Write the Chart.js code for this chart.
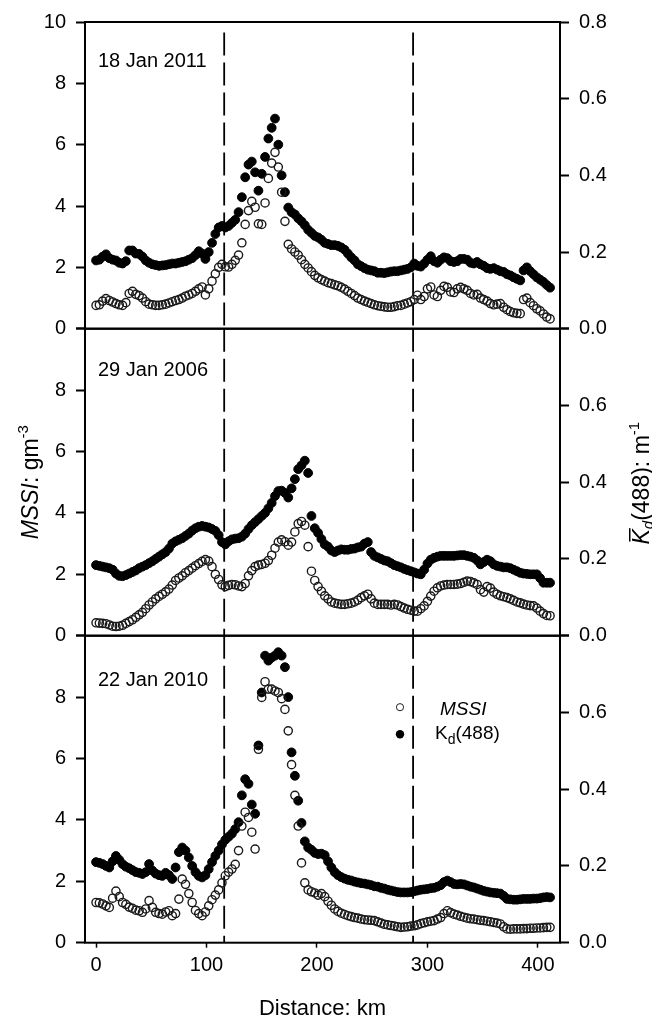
<!DOCTYPE html>
<html>
<head>
<meta charset="utf-8">
<script src="https://cdn.jsdelivr.net/npm/chart.js@4.4.1/dist/chart.umd.min.js"></script>
<style>
  html, body { margin: 0; padding: 0; background: #fff; }
  #wrap { position: relative; width: 652px; height: 1018px; }
  #wrap canvas { position: absolute; left: 0; top: 0; }
</style>
</head>
<body>
<div id="wrap">
  <canvas id="p1" width="652" height="1018"></canvas>
  <canvas id="p2" width="652" height="1018"></canvas>
  <canvas id="p3" width="652" height="1018"></canvas>
</div>
<script>
// distance along the transect, km
const distanceKm = [
  0, 3, 6, 9, 12, 15, 18, 21, 24, 27,
  30, 33, 36, 39, 42, 45, 48, 51, 54, 57,
  60, 63, 66, 69, 72, 75, 78, 81, 84, 87,
  90, 93, 96, 99, 102, 105, 108, 111, 114, 117,
  120, 123, 126, 129, 132, 135, 138, 141, 144, 147,
  150, 153, 156, 159, 162, 165, 168, 171, 174, 177,
  180, 183, 186, 189, 192, 195, 198, 201, 204, 207,
  210, 213, 216, 219, 222, 225, 228, 231, 234, 237,
  240, 243, 246, 249, 252, 255, 258, 261, 264, 267,
  270, 273, 276, 279, 282, 285, 288, 291, 294, 297,
  300, 303, 306, 309, 312, 315, 318, 321, 324, 327,
  330, 333, 336, 339, 342, 345, 348, 351, 354, 357,
  360, 363, 366, 369, 372, 375, 378, 381, 384, 387,
  390, 393, 396, 399, 402, 405, 408, 411
];
const dividerKm = [116, 287];

// 18 Jan 2011
const mssi2011 = [
  0.76, 0.78, 0.9, 0.98, 0.92, 0.87, 0.82, 0.78, 0.76, 0.85,
  1.15, 1.22, 1.12, 1.08, 1.0, 0.88, 0.8, 0.78, 0.76, 0.76,
  0.78, 0.8, 0.84, 0.88, 0.92, 0.95, 1.0, 1.06, 1.1, 1.15,
  1.22, 1.3, 1.36, 1.1, 1.3, 1.55, 1.79, 2.0, 2.1, 2.02,
  2.01, 2.1, 2.23, 2.4, 2.8, 3.4, 3.85, 4.15, 3.96, 3.42,
  3.4, 4.1, 4.9, 5.4, 5.75, 5.27, 4.45, 3.5, 2.75, 2.6,
  2.5, 2.4, 2.25, 2.1, 1.98, 1.86, 1.74, 1.66, 1.6, 1.55,
  1.5, 1.47, 1.43, 1.4, 1.35, 1.29, 1.22, 1.15, 1.08, 1.0,
  0.95, 0.9, 0.86, 0.82, 0.78, 0.75, 0.73, 0.71, 0.7, 0.7,
  0.72, 0.75, 0.76, 0.8, 0.84, 0.88, 0.95, 1.09, 0.95, 1.05,
  1.3, 1.36, 1.1, 1.05, 1.25, 1.38, 1.35, 1.2, 1.18, 1.3,
  1.35, 1.3, 1.25, 1.15, 1.1, 1.12, 1.0, 0.95, 0.9, 0.82,
  0.78, 0.8, 0.82, 0.7, 0.62, 0.56, 0.52, 0.5, 0.49, 0.95,
  1.0, 0.85, 0.75, 0.65, 0.58, 0.48, 0.38, 0.32
];
const kd2011 = [
  0.178, 0.18, 0.188, 0.194, 0.184, 0.18, 0.178, 0.172, 0.17, 0.176,
  0.204, 0.204, 0.196, 0.195, 0.188, 0.178, 0.172, 0.168, 0.166, 0.164,
  0.165, 0.166, 0.168, 0.17, 0.17, 0.172, 0.174, 0.176, 0.18, 0.184,
  0.192, 0.202, 0.196, 0.182, 0.2, 0.224, 0.247, 0.264, 0.268, 0.264,
  0.268, 0.276, 0.284, 0.304, 0.343, 0.395, 0.428, 0.436, 0.408, 0.36,
  0.404, 0.448, 0.496, 0.524, 0.548, 0.48, 0.4, 0.356, 0.316, 0.304,
  0.298, 0.288, 0.28, 0.27, 0.258, 0.25, 0.242, 0.238, 0.232, 0.224,
  0.221, 0.218, 0.218, 0.216, 0.212, 0.206, 0.196, 0.186, 0.178, 0.168,
  0.163, 0.158, 0.154, 0.152, 0.15, 0.146, 0.146, 0.145, 0.147, 0.149,
  0.15, 0.15, 0.152, 0.154, 0.156, 0.16, 0.17, 0.164, 0.162, 0.17,
  0.18, 0.189, 0.176, 0.172, 0.18, 0.186, 0.184, 0.176, 0.174, 0.176,
  0.182, 0.182, 0.18, 0.172, 0.17, 0.174, 0.168, 0.164, 0.158, 0.156,
  0.158, 0.154, 0.15, 0.148, 0.142, 0.139, 0.134, 0.13, 0.126, 0.152,
  0.16, 0.15, 0.142, 0.134, 0.128, 0.122, 0.114, 0.107
];

// 29 Jan 2006
const mssi2006 = [
  0.42, 0.41, 0.4, 0.39, 0.35, 0.31, 0.3, 0.31, 0.34, 0.4,
  0.46, 0.52, 0.6, 0.68, 0.76, 0.88, 1.0, 1.1, 1.2, 1.28,
  1.35, 1.43, 1.52, 1.65, 1.8, 1.88, 1.95, 2.05, 2.12, 2.2,
  2.28, 2.35, 2.42, 2.48, 2.43, 2.25, 2.0, 1.83, 1.66, 1.6,
  1.64, 1.67, 1.66, 1.62, 1.6, 1.7, 1.95, 2.12, 2.25, 2.3,
  2.32, 2.36, 2.45, 2.62, 2.85, 3.05, 3.12, 3.06, 2.95, 3.05,
  3.38, 3.65, 3.72, 3.6, 2.9, 2.1, 1.8, 1.6, 1.45, 1.3,
  1.2, 1.1, 1.06, 1.04, 1.02, 1.02, 1.04, 1.06, 1.1, 1.16,
  1.24, 1.3, 1.35, 1.2, 1.06, 1.02, 1.02, 1.02, 1.02, 1.0,
  1.02, 1.0, 0.95, 0.9, 0.86, 0.83, 0.8, 0.8, 0.88, 0.97,
  1.12, 1.29, 1.45, 1.56, 1.62, 1.65, 1.67, 1.67, 1.67, 1.68,
  1.7, 1.74, 1.78, 1.76, 1.72, 1.67, 1.5, 1.42, 1.6, 1.55,
  1.42, 1.35, 1.3, 1.27, 1.24, 1.2, 1.15, 1.1, 1.07, 1.03,
  1.0, 0.98, 0.97, 0.9, 0.8, 0.72, 0.66, 0.65
];
const kd2006 = [
  0.184, 0.182, 0.18, 0.178, 0.176, 0.172, 0.162, 0.156, 0.155, 0.158,
  0.162, 0.166, 0.17, 0.176, 0.18, 0.184, 0.189, 0.194, 0.2, 0.206,
  0.212, 0.218, 0.227, 0.24, 0.246, 0.25, 0.254, 0.26, 0.266, 0.274,
  0.28, 0.284, 0.286, 0.284, 0.282, 0.278, 0.273, 0.262, 0.244, 0.238,
  0.246, 0.251, 0.253, 0.254, 0.258, 0.266, 0.278, 0.288, 0.296, 0.304,
  0.312, 0.32, 0.332, 0.346, 0.364, 0.377, 0.378, 0.372, 0.36, 0.384,
  0.408, 0.434, 0.444, 0.456, 0.424, 0.312, 0.28, 0.268, 0.252, 0.238,
  0.232, 0.222, 0.218, 0.222, 0.225, 0.224, 0.224, 0.226, 0.227, 0.23,
  0.232, 0.24, 0.244, 0.218, 0.208, 0.204, 0.2, 0.196, 0.194, 0.189,
  0.184, 0.181, 0.178, 0.174, 0.171, 0.168, 0.165, 0.162, 0.16, 0.172,
  0.188, 0.198, 0.203, 0.206, 0.208, 0.208, 0.208, 0.208, 0.208, 0.209,
  0.21, 0.21, 0.208, 0.206, 0.203, 0.196, 0.186, 0.192, 0.198, 0.194,
  0.186, 0.182, 0.18, 0.178, 0.178, 0.176, 0.172, 0.168, 0.164, 0.162,
  0.161, 0.16, 0.16, 0.16, 0.15, 0.138, 0.138, 0.138
];

// 22 Jan 2010
const mssi2010 = [
  1.31, 1.3, 1.26, 1.2, 1.15, 1.45, 1.68, 1.5, 1.31, 1.25,
  1.16, 1.12, 1.06, 1.04, 0.99, 1.1, 1.37, 1.15, 0.99, 0.95,
  0.93, 1.0, 1.04, 0.88, 0.95, 1.42, 2.07, 1.9, 1.6, 1.31,
  1.05, 0.95, 0.88, 1.0, 1.2, 1.4, 1.55, 1.72, 1.95, 2.18,
  2.3, 2.4, 2.55, 3.0, 3.8, 4.25, 4.08, 3.6, 3.05, 6.3,
  7.99, 8.5, 8.26, 8.26, 8.2, 8.15, 7.95, 7.6, 6.9, 5.8,
  4.8, 3.8, 2.6, 1.95, 1.72, 1.66, 1.62, 1.55, 1.6, 1.5,
  1.35, 1.22, 1.1, 1.02, 0.96, 0.92, 0.88, 0.85, 0.82, 0.8,
  0.77, 0.75, 0.74, 0.73, 0.72, 0.68, 0.64, 0.6, 0.58, 0.56,
  0.54, 0.52, 0.5, 0.51, 0.52, 0.54, 0.55, 0.58, 0.62, 0.65,
  0.68, 0.7, 0.72, 0.77, 0.82, 0.95, 1.04, 0.98, 0.93, 0.9,
  0.86, 0.83, 0.8, 0.78, 0.77, 0.75, 0.73, 0.72, 0.7, 0.68,
  0.66, 0.64, 0.61, 0.52, 0.45, 0.44, 0.45, 0.45, 0.45, 0.46,
  0.46, 0.47, 0.47, 0.48, 0.48, 0.49, 0.5, 0.5
];
const kd2010 = [
  0.21, 0.208, 0.205, 0.2, 0.196, 0.212, 0.226, 0.216, 0.205, 0.198,
  0.194, 0.189, 0.184, 0.182, 0.179, 0.184, 0.205, 0.188, 0.18, 0.176,
  0.174, 0.182, 0.176, 0.166, 0.196, 0.236, 0.248, 0.24, 0.222, 0.2,
  0.184, 0.174, 0.17, 0.176, 0.192, 0.21, 0.226, 0.24, 0.256, 0.268,
  0.276, 0.284, 0.296, 0.314, 0.384, 0.426, 0.414, 0.36, 0.336, 0.514,
  0.652, 0.748, 0.735, 0.743, 0.748, 0.757, 0.748, 0.718, 0.64, 0.496,
  0.435, 0.37, 0.312, 0.264, 0.248, 0.242, 0.234, 0.231, 0.232, 0.228,
  0.212, 0.196, 0.184, 0.176, 0.171, 0.167, 0.164, 0.162, 0.159, 0.157,
  0.155, 0.154, 0.152, 0.15, 0.147, 0.146, 0.143, 0.141, 0.138, 0.136,
  0.134, 0.132, 0.131, 0.131, 0.131, 0.132, 0.134, 0.136, 0.138, 0.139,
  0.14, 0.142, 0.143, 0.146, 0.15, 0.158, 0.162, 0.158, 0.153, 0.152,
  0.153, 0.152, 0.149, 0.146, 0.144, 0.141, 0.138, 0.135, 0.133, 0.131,
  0.13, 0.129, 0.128, 0.122, 0.114, 0.113, 0.112, 0.112, 0.113, 0.114,
  0.114, 0.114, 0.115, 0.115, 0.116, 0.118, 0.119, 0.118
];

const panelDates = ['18 Jan 2011', '29 Jan 2006', '22 Jan 2010'];
const mssiTicks = [0, 2, 4, 6, 8, 10];
const kdTicks = [0, 0.2, 0.4, 0.6, 0.8];
const distanceTicks = [0, 100, 200, 300, 400];

const FONT = '"Liberation Sans", Arial, Helvetica, sans-serif';
Chart.defaults.font.family = FONT;
Chart.defaults.color = '#000';

// panel layout (px)
const edges = [21.7, 328.7, 635.7, 942.7];
const PAGE_H = 1018;
const LEFT_W = 85, RIGHT_W = 92;

const panels = [
  { canvas: 'p1', date: panelDates[0], mssi: mssi2011, kd: kd2011, dividerTop: 9.66, dateBase: 45 },
  { canvas: 'p2', date: panelDates[1], mssi: mssi2006, kd: kd2006, dividerTop: 10, dateBase: 47.5 },
  { canvas: 'p3', date: panelDates[2], mssi: mssi2010, kd: kd2010, dividerTop: 10, dateBase: 50 }
];

const toPoints = vals => vals.map((v, i) => ({ x: distanceKm[i], y: v }));

function drawRuns(ctx, runs, x, y) {
  let total = 0;
  runs.forEach(r => { ctx.font = r.font; r.w = ctx.measureText(r.text).width; total += r.w; });
  let cx = x - total / 2;
  runs.forEach(r => { ctx.font = r.font; r.x = cx; ctx.fillText(r.text, cx, y + (r.dy || 0)); cx += r.w; });
  return runs;
}

function drawFigureText(chart) {
  const ctx = chart.ctx, a = chart.chartArea;
  ctx.save();
  ctx.fillStyle = '#000';
  ctx.textBaseline = 'alphabetic';
  ctx.textAlign = 'left';
  const midY = (edges[1] + edges[2]) / 2;

  // left axis title
  ctx.save();
  ctx.translate(38, midY);
  ctx.rotate(-Math.PI / 2);
  drawRuns(ctx, [
    { text: 'MSSI', font: `italic 23px ${FONT}` },
    { text: ': gm', font: `23px ${FONT}` },
    { text: '-3', font: `15px ${FONT}`, dy: -10 }
  ], 0, 0);
  ctx.restore();

  // right axis title
  ctx.save();
  ctx.translate(649, midY + 1);
  ctx.rotate(-Math.PI / 2);
  const runs = drawRuns(ctx, [
    { text: 'K', font: `italic 23px ${FONT}` },
    { text: 'd', font: `italic 15px ${FONT}`, dy: 4 },
    { text: '(488): m', font: `23px ${FONT}` },
    { text: '-1', font: `15px ${FONT}`, dy: -10 }
  ], 0, 0);
  ctx.fillRect(runs[0].x + 3, -20, runs[0].w - 2, 1.5);
  ctx.restore();

  // x axis title
  ctx.font = `22px ${FONT}`;
  ctx.textAlign = 'center';
  ctx.fillText('Distance: km', (a.left + a.right) / 2, 1015);

  // legend
  ctx.textAlign = 'left';
  const lx = a.left + 315;
  ctx.lineWidth = 1;
  ctx.strokeStyle = '#222';
  ctx.beginPath(); ctx.arc(lx, a.top + 71.5, 3.6, 0, Math.PI * 2); ctx.stroke();
  ctx.beginPath(); ctx.arc(lx, a.top + 98.5, 4.2, 0, Math.PI * 2); ctx.fill();
  ctx.font = `italic 19px ${FONT}`;
  ctx.fillText('MSSI', a.left + 355, a.top + 79);
  ctx.font = `19px ${FONT}`;
  ctx.fillText('K', a.left + 350, a.top + 103);
  const kW = ctx.measureText('K').width;
  ctx.font = `14px ${FONT}`;
  ctx.fillText('d', a.left + 350 + kW, a.top + 108);
  const dW = ctx.measureText('d').width;
  ctx.font = `19px ${FONT}`;
  ctx.fillText('(488)', a.left + 350 + kW + dW, a.top + 103);
  ctx.restore();
}

panels.forEach((p, idx) => {
  const isLast = idx === panels.length - 1;
  const top = edges[idx], bottom = edges[idx + 1];

  const framePlugin = {
    id: 'frame' + idx,
    afterDraw(chart) {
      const ctx = chart.ctx, a = chart.chartArea;
      ctx.save();
      ctx.strokeStyle = '#000';
      ctx.lineWidth = 2;
      ctx.strokeRect(a.left, a.top, a.right - a.left, a.bottom - a.top);
      ctx.fillStyle = '#000';
      ctx.font = `20px ${FONT}`;
      ctx.textBaseline = 'alphabetic';
      ctx.fillText(p.date, a.left + 13, a.top + p.dateBase);
      ctx.restore();
      if (isLast) drawFigureText(chart);
    }
  };

  new Chart(document.getElementById(p.canvas), {
    type: 'scatter',
    data: {
      datasets: [
        ...dividerKm.map(d => ({
          type: 'line',
          data: [{ x: d, y: p.dividerTop }, { x: d, y: 0 }],
          yAxisID: 'y',
          borderColor: '#000',
          borderWidth: 1.8,
          borderDash: [23, 7],
          pointRadius: 0,
          fill: false,
          order: 3
        })),
        {
          label: 'MSSI',
          data: toPoints(p.mssi),
          yAxisID: 'y',
          pointRadius: 4.1,
          borderWidth: 1.4,
          borderColor: '#1a1a1a',
          backgroundColor: 'rgba(255,255,255,0)',
          order: 1
        },
        {
          label: 'Kd(488)',
          data: toPoints(p.kd),
          yAxisID: 'y2',
          pointRadius: 4.4,
          borderWidth: 1,
          borderColor: '#000',
          backgroundColor: '#000',
          order: 2
        }
      ]
    },
    options: {
      responsive: false,
      animation: false,
      events: [],
      layout: { padding: { top: top, bottom: isLast ? 0 : PAGE_H - bottom, left: 0, right: 0 } },
      plugins: { legend: { display: false }, tooltip: { enabled: false } },
      scales: {
        x: {
          type: 'linear',
          min: -10, max: 420,
          display: isLast,
          afterFit: s => { s.height = isLast ? PAGE_H - bottom : 0; },
          afterBuildTicks: s => { s.ticks = distanceTicks.map(v => ({ value: v })); },
          ticks: { font: { size: 20 }, color: '#000', padding: 6, maxRotation: 0 },
          grid: { drawOnChartArea: false, drawTicks: true, tickLength: 5, tickWidth: 1.5, tickColor: '#000' },
          border: { display: false }
        },
        y: {
          position: 'left',
          min: 0, max: 10,
          afterFit: s => { s.width = LEFT_W; },
          afterBuildTicks: s => { s.ticks = mssiTicks.map(v => ({ value: v })); },
          ticks: {
            font: { size: 20 }, color: '#000', padding: 10,
            callback: v => (idx > 0 && v === 10) ? '' : String(v)
          },
          grid: { drawOnChartArea: false, drawTicks: true, tickLength: 9, tickWidth: 2, tickColor: '#000' },
          border: { display: false }
        },
        y2: {
          position: 'right',
          min: 0, max: 0.8,
          afterFit: s => { s.width = RIGHT_W; },
          afterBuildTicks: s => { s.ticks = kdTicks.map(v => ({ value: v })); },
          ticks: {
            font: { size: 20 }, color: '#000', padding: 10,
            callback: v => (idx > 0 && v === 0.8) ? '' : v.toFixed(1)
          },
          grid: { drawOnChartArea: false, drawTicks: true, tickLength: 9, tickWidth: 2, tickColor: '#000' },
          border: { display: false }
        }
      }
    },
    plugins: [framePlugin]
  });
});
</script>
</body>
</html>
